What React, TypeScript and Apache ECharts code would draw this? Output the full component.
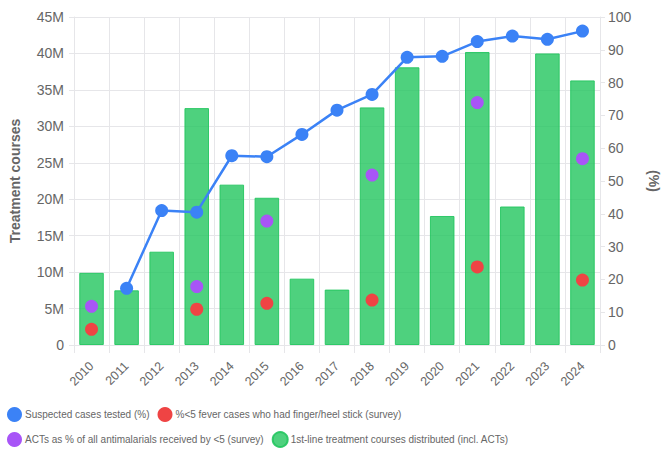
import React, { useEffect, useRef } from "react";
import * as echarts from "echarts";

const years = ["2010","2011","2012","2013","2014","2015","2016","2017","2018","2019","2020","2021","2022","2023","2024"];
const treatmentCourses = [9.9, 7.5, 12.8, 32.5, 22.0, 20.2, 9.1, 7.6, 32.6, 38.1, 17.7, 40.2, 19.0, 40.0, 36.3];
const suspectedTested = [null, 17.3, 41.0, 40.5, 57.7, 57.4, 64.2, 71.6, 76.4, 87.7, 88.0, 92.5, 94.2, 93.2, 95.7];
const fingerStick = [4.8, null, null, 10.9, null, 12.7, null, null, 13.7, null, null, 23.8, null, null, 19.8];
const actsShare = [11.8, null, null, 17.8, null, 37.8, null, null, 51.8, null, null, 73.9, null, null, 56.8];

const names = [
  "Suspected cases tested (%)",
  "%<5 fever cases who had finger/heel stick (survey)",
  "ACTs as % of all antimalarials received by <5 (survey)",
  "1st-line treatment courses distributed (incl. ACTs)",
];

const FONT = "'Liberation Sans', Arial, Helvetica, sans-serif";
const GRID = "#e6e6e9";
const LABEL = "#666666";

export default function App() {
  const ref = useRef<HTMLDivElement>(null);
  useEffect(() => {
    if (!ref.current) return;
    const chart = echarts.init(ref.current, null, { renderer: "svg" });
    const legendCommon = {
      icon: "circle",
      itemWidth: 15,
      itemHeight: 15,
      itemGap: 8,
      padding: 0,
      left: 7,
      textStyle: { fontSize: 10, color: LABEL, fontFamily: FONT, padding: [0, 0, 0, -2] },
    };
    chart.setOption({
      animation: false,
      textStyle: { fontFamily: FONT },
      grid: { left: 73, right: 66, top: 17, bottom: 106, containLabel: false },
      legend: [
        { ...legendCommon, top: 407, data: [names[0], names[1]] },
        { ...legendCommon, top: 431, data: [names[2], names[3]] },
      ],
      xAxis: {
        type: "category",
        data: years,
        boundaryGap: true,
        axisLine: { lineStyle: { color: GRID } },
        axisTick: { show: true, length: 8, lineStyle: { color: GRID } },
        splitLine: { show: true, lineStyle: { color: GRID } },
        axisLabel: { rotate: 45, color: LABEL, fontSize: 12.5, margin: 19, interval: 0 },
      },
      yAxis: [
        {
          type: "value",
          min: 0,
          max: 45,
          interval: 5,
          name: "Treatment courses",
          nameLocation: "middle",
          nameGap: 52,
          nameTextStyle: { fontWeight: "bold", fontSize: 14, color: LABEL },
          axisLine: { show: true, lineStyle: { color: GRID } },
          axisTick: { show: true, length: 5, lineStyle: { color: GRID } },
          splitLine: { show: true, lineStyle: { color: GRID } },
          axisLabel: {
            color: LABEL,
            fontSize: 14,
            margin: 10,
            formatter: (v: number) => (v === 0 ? "0" : v + "M"),
          },
        },
        {
          type: "value",
          min: 0,
          max: 100,
          interval: 10,
          position: "right",
          name: "(%)",
          nameLocation: "middle",
          nameRotate: -90,
          nameGap: 47,
          nameTextStyle: { fontWeight: "bold", fontSize: 14, color: LABEL },
          axisLine: { show: true, lineStyle: { color: GRID } },
          axisTick: { show: true, length: 5, lineStyle: { color: GRID } },
          splitLine: { show: false },
          axisLabel: { color: LABEL, fontSize: 14, margin: 8 },
        },
      ],
      series: [
        {
          name: names[3],
          type: "bar",
          yAxisIndex: 0,
          data: treatmentCourses,
          barCategoryGap: "30%",
          itemStyle: { color: "rgba(34,197,94,0.8)", borderColor: "rgba(34,197,94,0.9)", borderWidth: 1 },
          z: 1,
        },
        {
          name: names[0],
          type: "line",
          yAxisIndex: 1,
          data: suspectedTested,
          symbol: "circle",
          symbolSize: 13,
          lineStyle: { color: "#3b82f6", width: 2.5 },
          itemStyle: { color: "#3b82f6" },
          z: 3,
        },
        {
          name: names[1],
          type: "scatter",
          yAxisIndex: 1,
          data: fingerStick,
          symbol: "circle",
          symbolSize: 13,
          itemStyle: { color: "#ef4444", opacity: 1 },
          z: 4,
        },
        {
          name: names[2],
          type: "scatter",
          yAxisIndex: 1,
          data: actsShare,
          symbol: "circle",
          symbolSize: 13,
          itemStyle: { color: "#a855f7", opacity: 1 },
          z: 4,
        },
      ],
    });
    return () => chart.dispose();
  }, []);
  return <div ref={ref} style={{ width: 669, height: 451, position: "absolute", left: 0, top: 0 }} />;
}
